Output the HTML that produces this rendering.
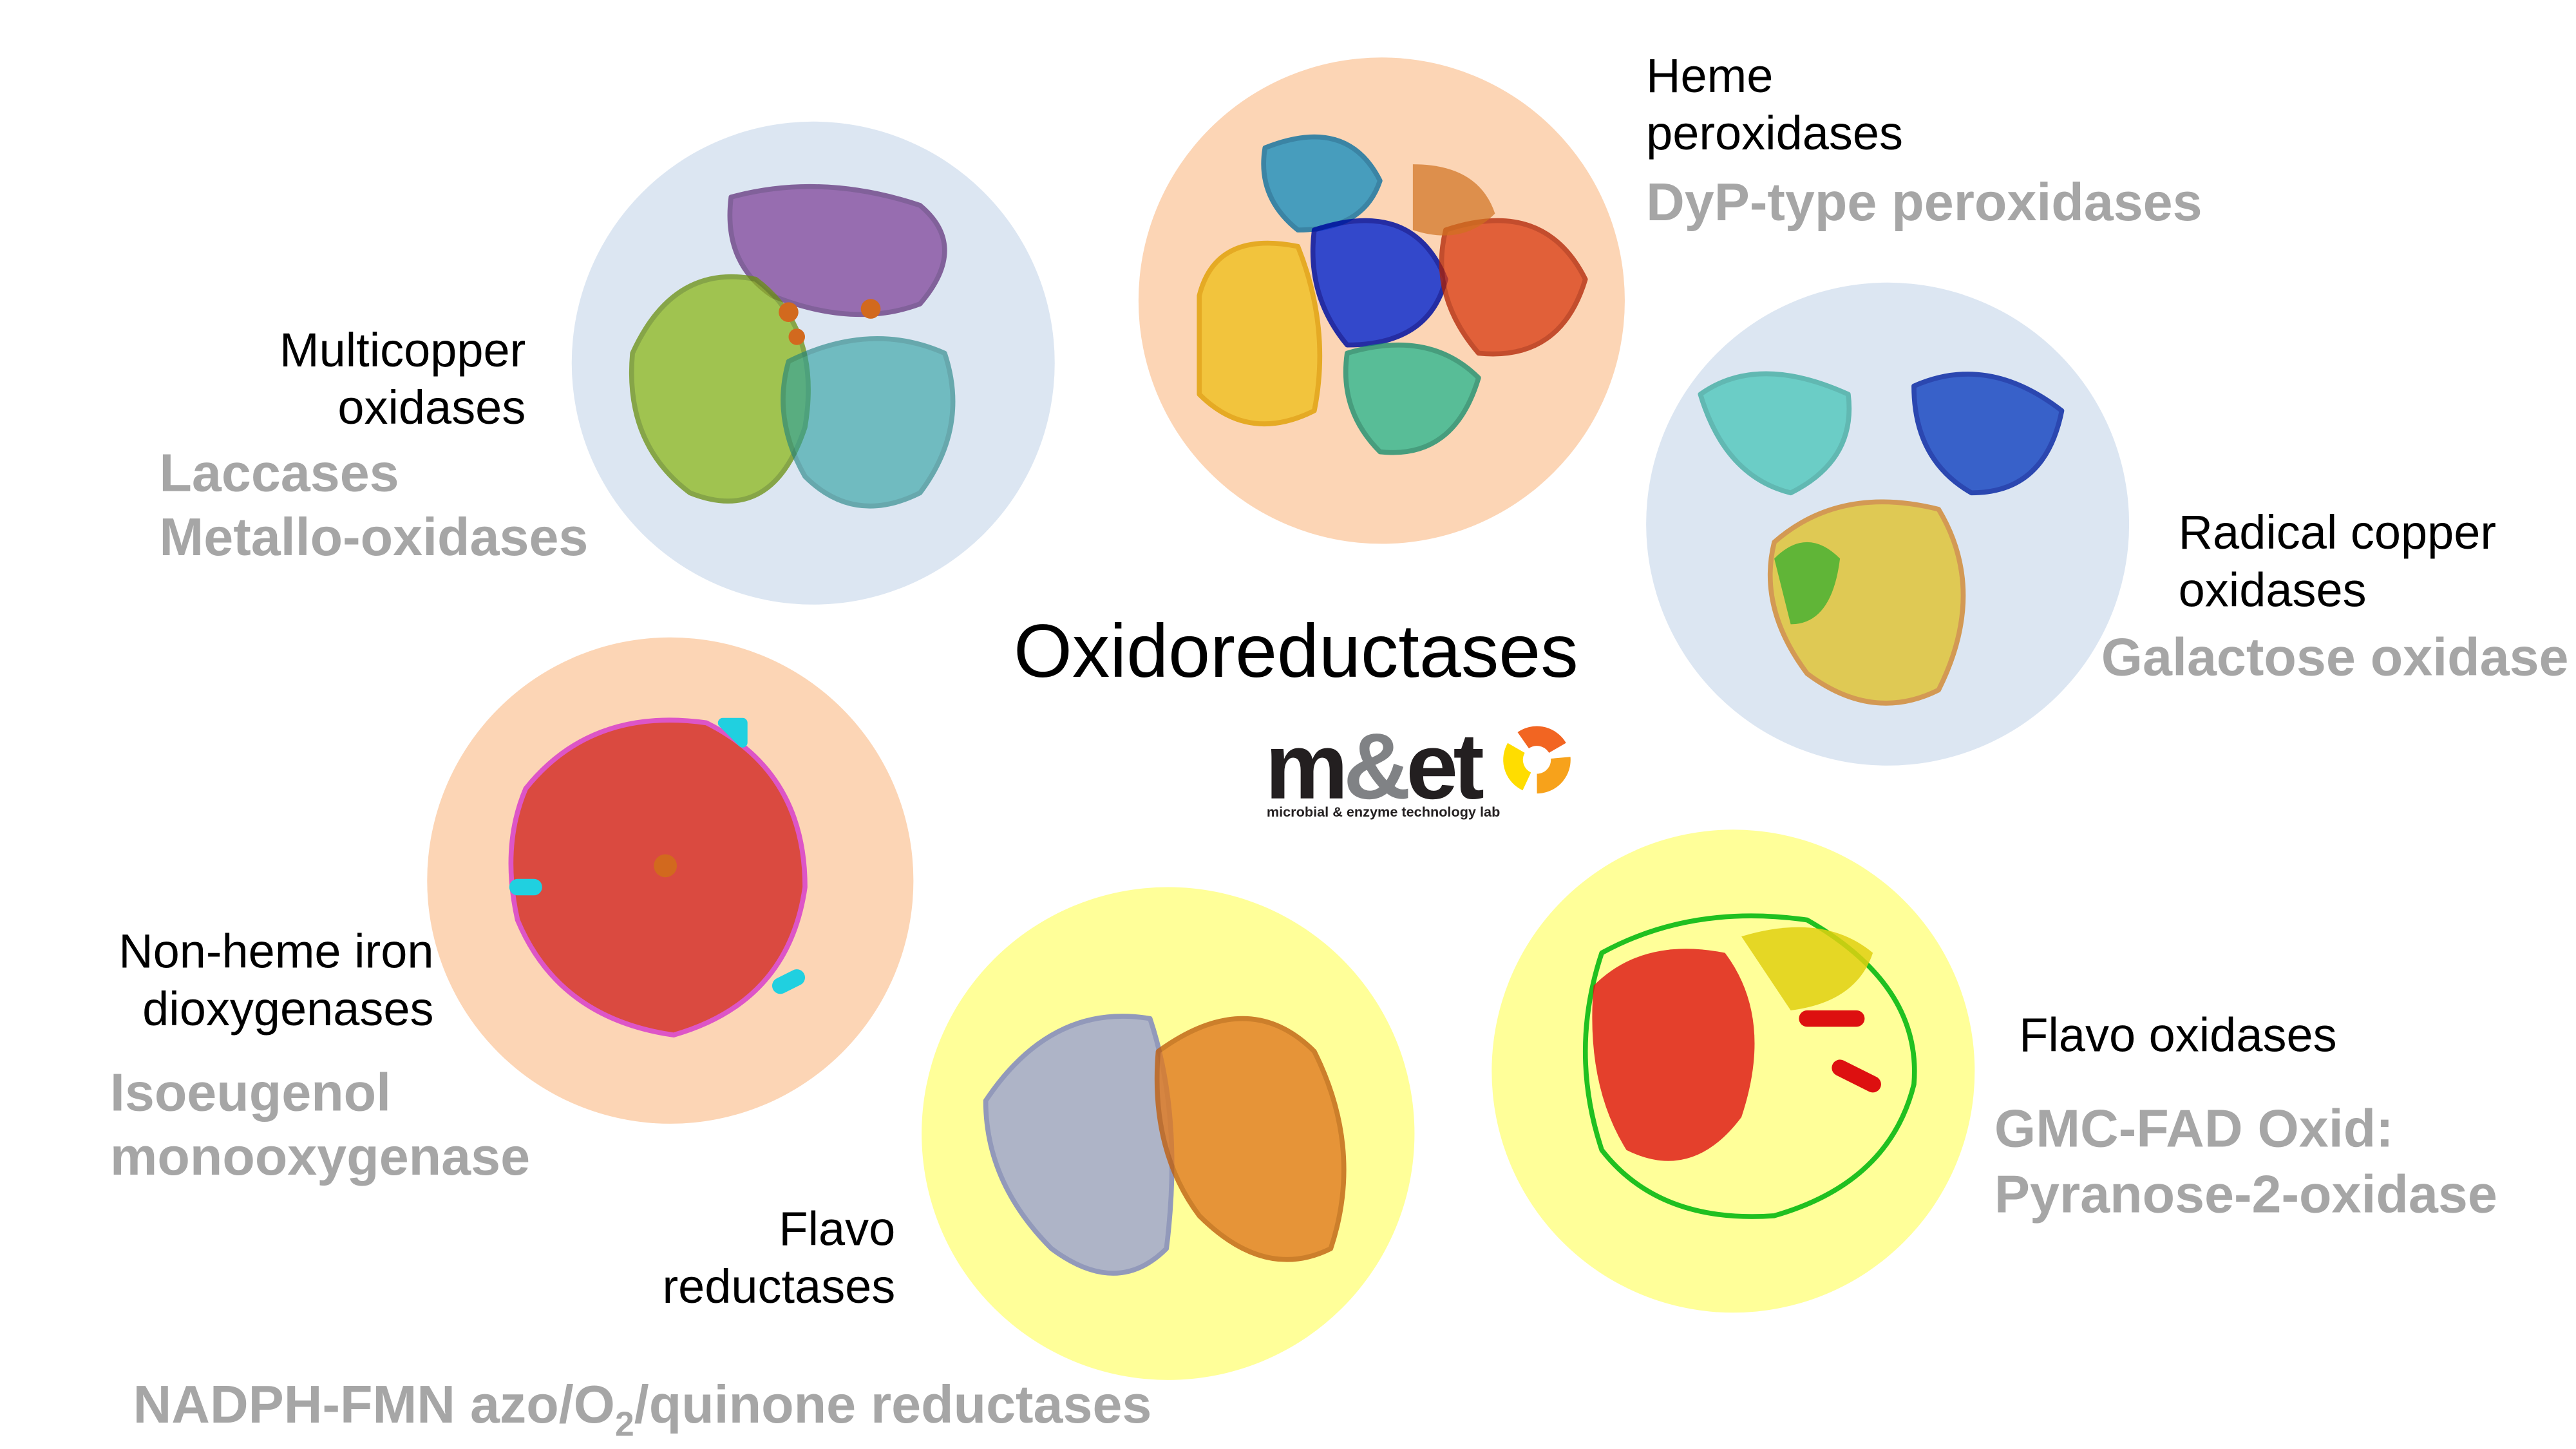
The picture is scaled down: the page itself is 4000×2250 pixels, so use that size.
<!DOCTYPE html>
<html><head><meta charset="utf-8"><style>
html,body{margin:0;padding:0;background:#fff;}
svg{display:block;}
text{font-family:"Liberation Sans",Arial,sans-serif;}
.b{font-size:29px;fill:#000;}
.g{font-size:32.4px;font-weight:bold;fill:#a6a6a6;}
</style></head><body>
<svg width="4000" height="2250" viewBox="0 0 1568 882" xmlns="http://www.w3.org/2000/svg">
<rect width="1568" height="882" fill="#fff"/>
<circle cx="495" cy="221" r="147" fill="#dce6f2"/>
<circle cx="841" cy="183" r="148" fill="#fcd5b5"/>
<circle cx="1149" cy="319" r="147" fill="#dce6f2"/>
<circle cx="408" cy="536" r="148" fill="#fcd5b5"/>
<circle cx="711" cy="690" r="150" fill="#ffff99"/>
<circle cx="1055" cy="652" r="147" fill="#ffff99"/>

<g fill="none" stroke-linecap="round" stroke-linejoin="round">
 <path d="M445 120 Q500 105 560 125 Q590 150 560 185 Q520 200 470 180 Q440 160 445 120Z" fill="#7a3a95" opacity=".7" stroke="#5b2a75" stroke-width="3"/>
 <path d="M385 215 Q410 160 460 170 Q500 200 490 260 Q470 320 420 300 Q380 270 385 215Z" fill="#8cb81a" opacity=".75" stroke="#6a9010" stroke-width="3"/>
 <path d="M480 220 Q530 195 575 215 Q590 260 560 300 Q520 320 490 290 Q470 255 480 220Z" fill="#2aa0a0" opacity=".6" stroke="#1a8080" stroke-width="3"/>
 <circle cx="480" cy="190" r="6" fill="#d2691e"/><circle cx="530" cy="188" r="6" fill="#d2691e"/><circle cx="485" cy="205" r="5" fill="#d2691e"/>
 <path d="M730 180 Q740 140 790 150 Q810 200 800 250 Q760 270 730 240Z" fill="#f0c020" opacity=".8" stroke="#e0a000" stroke-width="3"/>
 <path d="M770 90 Q820 70 840 110 Q830 140 790 140 Q765 120 770 90Z" fill="#1a90c0" opacity=".8" stroke="#0b70a0" stroke-width="3"/>
 <path d="M800 140 Q860 120 880 170 Q870 210 820 210 Q795 180 800 140Z" fill="#1030d0" opacity=".85" stroke="#0010a0" stroke-width="3"/>
 <path d="M880 140 Q940 120 965 170 Q950 220 900 215 Q870 180 880 140Z" fill="#d83a10" opacity=".75" stroke="#b02000" stroke-width="3"/>
 <path d="M820 215 Q870 200 900 230 Q885 280 840 275 Q815 250 820 215Z" fill="#30b890" opacity=".8" stroke="#1a9070" stroke-width="3"/>
 <path d="M860 100 Q900 100 910 130 Q890 150 860 140Z" fill="#d07020" opacity=".7"/>
 <path d="M1035 240 Q1070 215 1125 240 Q1130 280 1090 300 Q1050 290 1035 240Z" fill="#30c0b0" opacity=".65" stroke="#20a090" stroke-width="3"/>
 <path d="M1165 235 Q1210 215 1255 250 Q1245 300 1200 300 Q1165 280 1165 235Z" fill="#1040c0" opacity=".8" stroke="#0020a0" stroke-width="3"/>
 <path d="M1080 330 Q1120 295 1180 310 Q1210 360 1180 420 Q1140 440 1100 410 Q1070 370 1080 330Z" fill="#e0c020" opacity=".75" stroke="#d08020" stroke-width="3"/>
 <path d="M1080 340 Q1100 320 1120 340 Q1115 380 1090 380Z" fill="#40b030" opacity=".8"/>
 <path d="M320 480 Q360 430 430 440 Q490 470 490 540 Q480 610 410 630 Q340 620 315 560 Q305 515 320 480Z" fill="#cc1010" opacity=".7" stroke="#d020d0" stroke-width="3"/>
 <circle cx="405" cy="527" r="7" fill="#d2691e"/>
 <path d="M440 440 l12 0 l0 12Z" fill="#20d0e0" stroke="#20d0e0" stroke-width="6"/>
 <path d="M315 540 l10 0" stroke="#20d0e0" stroke-width="10"/>
 <path d="M475 600 l10 -5" stroke="#20d0e0" stroke-width="10"/>
 <path d="M600 670 Q640 610 700 620 Q720 680 710 760 Q680 790 640 760 Q600 720 600 670Z" fill="#a0a8d0" opacity=".85" stroke="#8088c0" stroke-width="3"/>
 <path d="M705 640 Q760 600 800 640 Q830 700 810 760 Q770 780 730 740 Q700 700 705 640Z" fill="#e07a20" opacity=".8" stroke="#c06010" stroke-width="3"/>
 <path d="M975 580 Q1030 550 1100 560 Q1170 600 1165 660 Q1150 720 1080 740 Q1010 745 975 700 Q955 640 975 580Z" fill="none" stroke="#20c020" stroke-width="3"/>
 <path d="M970 600 Q1000 570 1050 580 Q1080 620 1060 680 Q1030 720 990 700 Q965 660 970 600Z" fill="#dd1010" opacity=".8"/>
 <path d="M1060 570 Q1110 555 1140 580 Q1130 610 1090 615Z" fill="#e0d010" opacity=".85"/>
 <path d="M1100 620 l30 0 M1120 650 l20 10" stroke="#dd1010" stroke-width="10"/>
</g>

<text class="b" x="320" y="223" text-anchor="end">Multicopper</text>
<text class="b" x="320" y="258" text-anchor="end">oxidases</text>
<text class="g" x="97" y="299">Laccases</text>
<text class="g" x="97" y="338">Metallo-oxidases</text>

<text class="b" x="1002" y="56">Heme</text>
<text class="b" x="1002" y="91">peroxidases</text>
<text class="g" x="1002" y="134">DyP-type peroxidases</text>

<text class="b" x="1326" y="334">Radical copper</text>
<text class="b" x="1326" y="369">oxidases</text>
<text class="g" x="1279" y="411">Galactose oxidase</text>

<text x="617" y="412" style="font-size:45.8px;fill:#000">Oxidoreductases</text>

<text class="b" x="264" y="589" text-anchor="end">Non-heme iron</text>
<text class="b" x="264" y="624" text-anchor="end">dioxygenases</text>
<text class="g" x="67" y="676">Isoeugenol</text>
<text class="g" x="67" y="715">monooxygenase</text>

<text class="b" x="545" y="758" text-anchor="end">Flavo</text>
<text class="b" x="545" y="793" text-anchor="end">reductases</text>
<text class="g" x="81" y="866">NADPH-FMN azo/O<tspan font-size="21" dy="8">2</tspan><tspan dy="-8">/quinone reductases</tspan></text>

<text class="b" x="1229" y="640">Flavo oxidases</text>
<text class="g" x="1214" y="698">GMC-FAD Oxid:</text>
<text class="g" x="1214" y="738">Pyranose-2-oxidase</text>

<text x="770" y="486" style="font-size:57px;font-weight:bold;fill:#231f20;letter-spacing:-3px">m<tspan fill="#808285">&amp;</tspan>et</text>
<text x="771" y="497" style="font-size:8.5px;font-weight:bold;fill:#231f20">microbial &amp; enzyme technology lab</text>
<g transform="translate(935.5,462.5)">
 <circle r="14.5" fill="none" stroke="#f26522" stroke-width="12" stroke-dasharray="24 67" transform="rotate(-125)"/>
 <circle r="14.5" fill="none" stroke="#f7a21b" stroke-width="12" stroke-dasharray="24 67" transform="rotate(-5)"/>
 <circle r="14.5" fill="none" stroke="#ffdd00" stroke-width="12" stroke-dasharray="24 67" transform="rotate(115)"/>
</g>
</svg>
</body></html>
